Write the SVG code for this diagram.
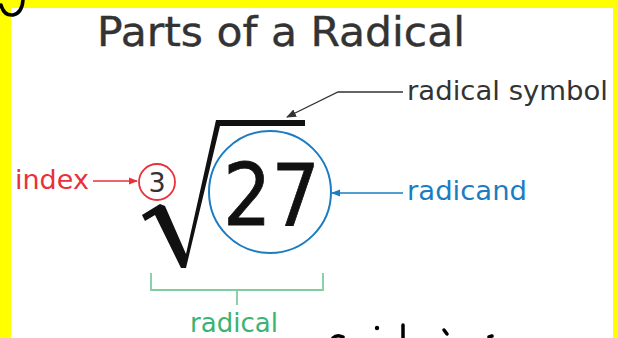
<svg xmlns="http://www.w3.org/2000/svg" width="618" height="338" viewBox="0 0 618 338">
<style>
.lbl{font-family:"DejaVu Sans","Verdana",sans-serif;font-size:27px}
.ink{fill:none;stroke:#000;stroke-width:3.5;stroke-linecap:round}
</style>
<defs>
<marker id="ah-gray" viewBox="0 0 10 10" refX="9" refY="5" markerWidth="10" markerHeight="10" markerUnits="userSpaceOnUse" orient="auto"><path d="M0,1 L10,5 L0,9 z" fill="#333"/></marker>
<marker id="ah-red" viewBox="0 0 10 10" refX="9" refY="5" markerWidth="9" markerHeight="9" markerUnits="userSpaceOnUse" orient="auto"><path d="M0,1 L10,5 L0,9 z" fill="#e8313b"/></marker>
<marker id="ah-blue" viewBox="0 0 10 10" refX="9" refY="5" markerWidth="9" markerHeight="9" markerUnits="userSpaceOnUse" orient="auto"><path d="M0,1 L10,5 L0,9 z" fill="#1b7cc1"/></marker>
</defs>
<rect width="618" height="338" fill="#fff"/>
<rect x="0" y="0" width="618" height="8" fill="#ffff00"/>
<rect x="0" y="0" width="11" height="338" fill="#ffff00"/>
<rect x="613" y="0" width="5" height="338" fill="#ffff00"/>

<text x="97" y="46" font-family="DejaVu Sans, Verdana, sans-serif" font-size="41" fill="#333" stroke="#333" stroke-width="0.4" textLength="368" lengthAdjust="spacingAndGlyphs">Parts of a Radical</text>

<g id="radical-sign">
<path d="M142,215 L160,204 L165,206 L186,254 L216,120 L305,120 L305,126 L220,126 L186,268 L181,268 L155,215 L145,221 z" fill="#111"/>
</g>
<g id="index-node">
<circle cx="157" cy="182" r="18" fill="#fff" stroke="#e8313b" stroke-width="1.8"/>
<text x="157" y="192" text-anchor="middle" font-family="DejaVu Sans, sans-serif" font-size="27" fill="#333">3</text>
</g>
<g id="radicand-node">
<circle cx="270" cy="192" r="61" fill="none" stroke="#1b7cc1" stroke-width="2"/>
<text x="223" y="225" font-family="DejaVu Sans, sans-serif" font-size="85" fill="#111" stroke="#111" stroke-width="0.8" textLength="97" lengthAdjust="spacingAndGlyphs">27</text>
</g>
<g id="label-index"><text class="lbl" x="15" y="189" fill="#e8313b">index</text></g>
<g id="label-symbol"><text class="lbl" x="407" y="100" fill="#333" textLength="201" lengthAdjust="spacingAndGlyphs">radical symbol</text></g>
<g id="label-radicand"><text class="lbl" x="407" y="200" fill="#1b7cc1" textLength="120" lengthAdjust="spacingAndGlyphs">radicand</text></g>
<g id="label-radical"><text class="lbl" x="190" y="332" fill="#3cb371" textLength="88" lengthAdjust="spacingAndGlyphs">radical</text></g>

<g id="connectors" fill="none">
<polyline points="403,92 338,92 287,117" stroke="#333" stroke-width="1.3" marker-end="url(#ah-gray)"/>
<line x1="93" y1="181" x2="137" y2="181" stroke="#e8313b" stroke-width="1.3" marker-end="url(#ah-red)"/>
<line x1="403" y1="193" x2="332" y2="193" stroke="#1b7cc1" stroke-width="1.3" marker-end="url(#ah-blue)"/>
<path d="M151,273 L151,290 L323,290 L323,273 M237,290 L237,305" stroke="#7fcf9e" stroke-width="1.8"/>
</g>

<g id="handwriting">
<path class="ink" d="M1,5 Q4,16 13,15 Q22,13 23,0"/>
<path class="ink" d="M333,338 Q337,334 343,337"/>
<circle cx="377" cy="328" r="2.2" fill="#000"/>
<path class="ink" d="M403,325 L403,338"/>
<path class="ink" d="M444,330 L447,334"/>
<path class="ink" d="M489,337 L492,336"/>
</g>
</svg>
